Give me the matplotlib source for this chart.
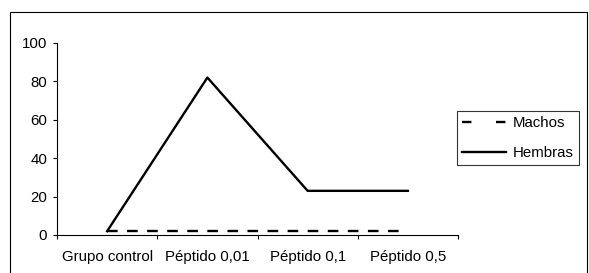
import matplotlib
matplotlib.use('Agg')
import matplotlib.pyplot as plt
from matplotlib.patches import Rectangle

categories = ['Grupo control', 'Péptido 0,01', 'Péptido 0,1', 'Péptido 0,5']
machos = [2, 2, 2, 2]
hembras = [2, 82, 23, 23]
y_ticks = [0, 20, 40, 60, 80, 100]

plt.rcParams['font.family'] = ['Liberation Sans', 'DejaVu Sans']
plt.rcParams['font.size'] = 10.8

fig = plt.figure(figsize=(5.89, 2.73), dpi=100)
ax = fig.add_axes([0.0968, 0.1392, 0.6808, 0.7033])

x = [i + 0.5 for i in range(len(categories))]
ax.plot(x, machos, color='black', lw=1.7, linestyle=(0, (4.5, 4)), label='Machos')
ax.plot(x, hembras, color='black', lw=1.7, label='Hembras')

ax.set_xlim(0, len(categories))
ax.set_ylim(0, 100)
ax.set_yticks(y_ticks)
ax.set_xticks(range(len(categories) + 1))
ax.set_xticklabels([])
ax.set_xticks(x, minor=True)
ax.set_xticklabels(categories, minor=True)
ax.tick_params(axis='x', which='minor', length=0, pad=11)
ax.tick_params(axis='both', which='major', direction='out', length=3, width=0.8)
ax.tick_params(axis='y', pad=4)

for side in ['top', 'right']:
    ax.spines[side].set_visible(False)
for side in ['left', 'bottom']:
    ax.spines[side].set_linewidth(0.8)

leg = ax.legend(loc='center left', bbox_to_anchor=(0.998, 0.505), borderaxespad=0,
                frameon=True, fancybox=False, edgecolor='black', handlelength=2.9,
                handletextpad=0.45, borderpad=0.35, labelspacing=1.05)
leg.get_frame().set_linewidth(0.8)
# legend sample shows just two dashes, one at each end
leg.get_lines()[0].set_linestyle((0, (4, 10.4)))

# outer chart border (bottom edge falls outside the image)
fig.add_artist(Rectangle((0.017, -0.1), 0.98, 1.056, transform=fig.transFigure,
                         fill=False, edgecolor='black', lw=0.8))

fig.savefig('out.png', dpi=100)
